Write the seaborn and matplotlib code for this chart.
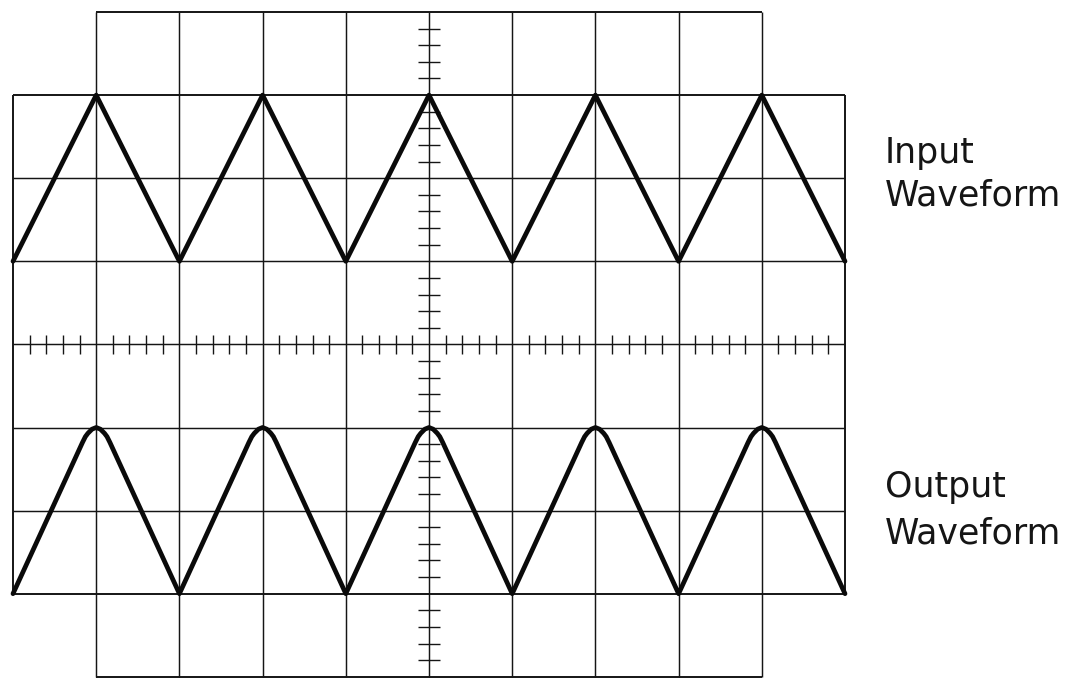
import numpy as np
import pandas as pd
import matplotlib
matplotlib.use("Agg")
import matplotlib.pyplot as plt
import seaborn as sns

# graticule: 10 x 8 divisions, origin at the centre
grid_x = [-5, -4, -3, -2, -1, 0, 1, 2, 3, 4, 5]
grid_y = [-4, -3, -2, -1, 0, 1, 2, 3, 4]

# input waveform (triangle) in divisions
in_x = [-5, -4, -3, -2, -1, 0, 1, 2, 3, 4, 5]
in_y = [1, 3, 1, 3, 1, 3, 1, 3, 1, 3, 1]

# output waveform: same triangle, peaks rounded off
out_x = [-5,
         -4.165, -4.13, -4.1, -4.05, -4, -3.95, -3.9, -3.87, -3.835,
         -3,
         -2.165, -2.13, -2.1, -2.05, -2, -1.95, -1.9, -1.87, -1.835,
         -1,
         -0.165, -0.13, -0.1, -0.05, 0, 0.05, 0.1, 0.13, 0.165,
         1,
         1.835, 1.87, 1.9, 1.95, 2, 2.05, 2.1, 2.13, 2.165,
         3,
         3.835, 3.87, 3.9, 3.95, 4, 4.05, 4.1, 4.13, 4.165,
         5]
out_y = [-3,
         -1.18, -1.11, -1.07, -1.02, -1, -1.02, -1.07, -1.11, -1.18,
         -3,
         -1.18, -1.11, -1.07, -1.02, -1, -1.02, -1.07, -1.11, -1.18,
         -3,
         -1.18, -1.11, -1.07, -1.02, -1, -1.02, -1.07, -1.11, -1.18,
         -3,
         -1.18, -1.11, -1.07, -1.02, -1, -1.02, -1.07, -1.11, -1.18,
         -3,
         -1.18, -1.11, -1.07, -1.02, -1, -1.02, -1.07, -1.11, -1.18,
         -3]

input_label = ["Input", "Waveform"]
output_label = ["Output", "Waveform"]

sns.set_style("white")
plt.rcParams['font.family'] = ['DejaVu Sans']

fig = plt.figure(figsize=(10.8, 6.79), dpi=100)
ax = fig.add_axes([0, 0, 1, 1])

px = 83.2
py = 83.1
ax.set_xlim(-5 - 13 / px, -5 - 13 / px + 1080 / px)
ax.set_ylim(4 + 12 / py - 679 / py, 4 + 12 / py)

gc = "#151515"
glw = 1.05
# horizontal graticule lines
for y in grid_y:
    if abs(y) == 4:
        ax.hlines(y, -4, 4, color=gc, lw=glw + 0.35)
    else:
        ax.hlines(y, -5, 5, color=gc, lw=glw + (0.35 if abs(y) == 3 else 0))
# vertical graticule lines
for x in grid_x:
    if abs(x) == 5:
        ax.vlines(x, -3, 3, color=gc, lw=glw + 0.35)
    else:
        ax.vlines(x, -4, 4, color=gc, lw=glw)

# minor ticks on the centre lines (0.2 div)
minor_x = [v for v in np.arange(-5, 5.001, 0.2) if abs(v - round(v)) > 1e-6]
minor_y = [v for v in np.arange(-4, 4.001, 0.2) if abs(v - round(v)) > 1e-6]
ax.vlines(minor_x, -0.11, 0.11, color=gc, lw=1.0)
ax.hlines(minor_y, -0.13, 0.13, color=gc, lw=1.0)

df_in = pd.DataFrame({"x": in_x, "y": in_y})
df_out = pd.DataFrame({"x": out_x, "y": out_y})
sns.lineplot(data=df_in, x="x", y="y", sort=False, estimator=None,
             color="#0a0a0a", lw=3.4, ax=ax)
sns.lineplot(data=df_out, x="x", y="y", sort=False, estimator=None,
             color="#0a0a0a", lw=3.4, ax=ax)
ax.axis("off")

# labels, one text per line so the baselines sit where they do on the screen
for txt, base in zip(input_label + output_label, [163, 206, 497, 543]):
    fig.text(885 / 1080, 1 - base / 679, txt, fontsize=25, color="#151515",
             va="baseline", ha="left")

fig.savefig("out.png", dpi=100)
